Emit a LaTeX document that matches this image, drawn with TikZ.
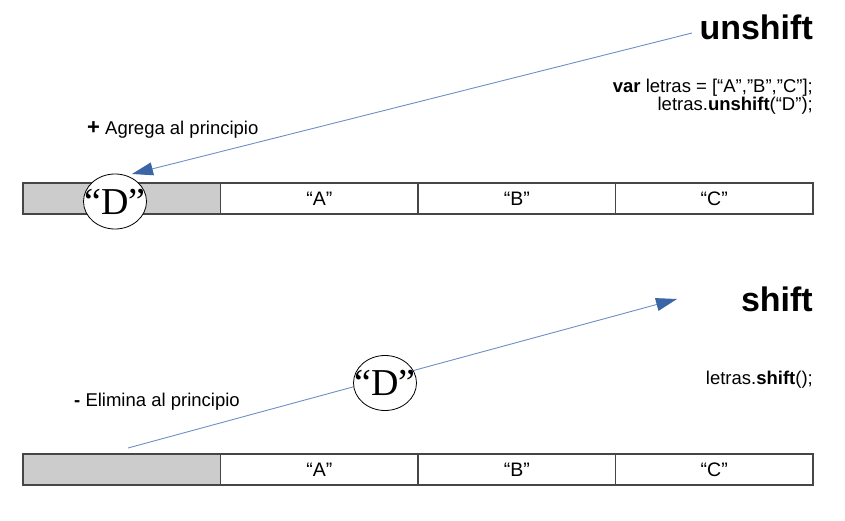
\documentclass[tikz,border=0pt]{standalone}
\usepackage{fontspec}
\setmainfont{Liberation Sans}
\newfontfamily\letraD{Liberation Serif}
\usetikzlibrary{positioning}
\usetikzlibrary{arrows.meta,shapes.geometric}
\definecolor{cellline}{RGB}{70,70,70}
\definecolor{cellfill}{RGB}{204,204,204}
\definecolor{lineblue}{RGB}{112,142,196}
\definecolor{tipblue}{RGB}{58,102,168}

\begin{document}
\begin{tikzpicture}[x=1pt,y=-1pt,
  cell/.style={draw=cellline,line width=1.1pt,minimum width=197.5pt,minimum height=31pt,
    inner sep=0pt,outer sep=0pt,font=\fontsize{19.5}{21}\selectfont},
  txt/.style={inner sep=0pt,font=\fontsize{18.5}{22}\selectfont},
  title/.style={inner sep=0pt,font=\fontsize{34}{38}\selectfont\bfseries},
  flecha/.style={draw=lineblue,line width=0.9pt,-{Triangle[length=21pt,width=13pt,color=tipblue]}},
  letra/.style={ellipse,draw=black,line width=0.8pt,fill=white,minimum width=63pt,minimum height=55pt,
    inner sep=0pt,label={[font=\fontsize{38}{40}\selectfont\letraD]center:“D”}}]
\useasboundingbox (0,0) rectangle (845,521);

% unshift
\node[title,anchor=base east](tUnshift) at (813,40){unshift};
\node[txt,anchor=base east](code1) at (813,93){\textbf{var} letras = [“A”,”B”,”C”];};
\node[txt,anchor=base east](code2) at (813,111){letras.\textbf{unshift}(“D”);};
\node[txt,anchor=base west](agrega) at (87,135){{\fontsize{22}{22}\selectfont\textbf{+}} Agrega al principio};

\node[cell,fill=cellfill,anchor=north west](u0) at (23,183){};
\node[cell,right=0pt of u0](u1){“A”};
\node[cell,right=0pt of u1](u2){“B”};
\node[cell,right=0pt of u2](u3){“C”};

\coordinate (uStart) at (692,33);
\coordinate (uEnd) at (132,174);
\path (uStart) edge[flecha] (uEnd);
\node[letra](dTop) at (115,201.5){};

% shift
\node[title,anchor=base east](tShift) at (813,311){shift};
\node[txt,anchor=base east](code3) at (813,384){letras.\textbf{shift}();};
\node[txt,anchor=base west](elimina) at (74,406){\textbf{-} Elimina al principio};

\node[cell,fill=cellfill,anchor=north west](s0) at (23,454){};
\node[cell,right=0pt of s0](s1){“A”};
\node[cell,right=0pt of s1](s2){“B”};
\node[cell,right=0pt of s2](s3){“C”};

\coordinate (sStart) at (128,448);
\coordinate (sEnd) at (677,299);
\path (sStart) edge[flecha] (sEnd);
\node[letra](dBottom) at (385,383){};
\end{tikzpicture}
\end{document}
